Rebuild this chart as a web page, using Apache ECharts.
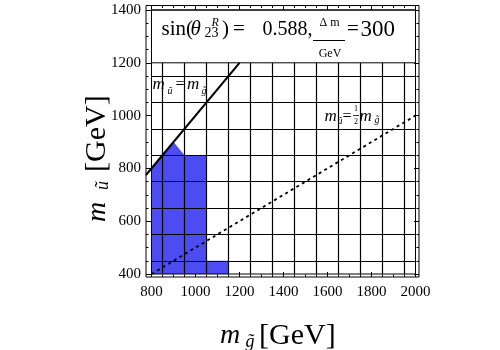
<!DOCTYPE html>
<html>
<head>
<meta charset="utf-8">
<script src="https://cdn.jsdelivr.net/npm/echarts@6/dist/echarts.min.js"></script>
<style>
  html, body { margin: 0; padding: 0; background: #fff; }
  #chart { width: 500px; height: 350px; }
</style>
</head>
<body>
<div id="chart"></div>
<script>
// Excluded region boundary: gluino mass (x) and squark mass (y), GeV
const regionGluino = [800, 800, 900, 950, 1050, 1050, 1150, 1150];
const regionSquark = [400, 800, 900, 850, 850, 450, 450, 400];

// Reference line m_squark = m_gluino
const equalGluino = [775, 1200];
const equalSquark = [775, 1200];

// Reference line m_squark = m_gluino / 2
const halfGluino = [800, 2000];
const halfSquark = [400, 1000];

// Scan cell boundaries
const cellEdgesX = [850, 950, 1050, 1150, 1250, 1350, 1450, 1550, 1650, 1750, 1850, 1950];
const cellEdgesY = [450, 550, 650, 750, 850, 950, 1050, 1150];

// Plot window (GeV) and tick spacing
const xRange = [800, 2000];
const yRange = [400, 1400];
const tickStep = 200;
const legendBoxBottom = 1200;

const SERIF = '"Liberation Serif", "Times New Roman", serif';
const zip = (a, b) => a.map((v, i) => [v, b[i]]);

const chart = echarts.init(document.getElementById('chart'), null, { renderer: 'canvas' });

function txt(text, x, y, size, opt) {
  opt = opt || {};
  const align = opt.align || 'left';
  return {
    type: 'text', x: x, y: y, rotation: opt.rot || 0, silent: true, z: 20,
    style: {
      text: text,
      font: (opt.italic ? 'italic ' : '') + size + 'px ' + SERIF,
      fill: '#000',
      align: align, textAlign: align,
      verticalAlign: 'middle', textVerticalAlign: 'middle'
    }
  };
}

const frameAxis = {
  min: xRange[0], max: xRange[1], interval: tickStep,
  axisLine: { show: false },
  axisTick: { show: true, inside: true, length: 5, lineStyle: { color: '#000', width: 1 } },
  minorTick: { show: true, splitNumber: 4, length: 2.5, lineStyle: { color: '#000', width: 1 } },
  splitLine: { show: false },
  axisLabel: { show: false }
};
const labelStyle = { color: '#000', fontFamily: SERIF, fontSize: 15, formatter: v => String(v) };

const vLines = cellEdgesX.map(x => [{ coord: [x, yRange[0]] }, { coord: [x, legendBoxBottom] }]);
const hLines = cellEdgesY.map(y => [{ coord: [xRange[0], y] }, { coord: [xRange[1], y] }]);

const option = {
  animation: false,
  backgroundColor: '#fff',
  grid: [
    { left: 146, right: 81, top: 5.5, bottom: 73, show: true, borderColor: '#000', borderWidth: 1, backgroundColor: 'transparent', z: 4 },
    { left: 151.5, right: 84.5, top: 10, bottom: 76, show: true, borderColor: '#000', borderWidth: 1, backgroundColor: 'transparent', z: 4 }
  ],
  xAxis: [
    { gridIndex: 0, type: 'value', min: 775, max: 2016, show: false },
    Object.assign({}, frameAxis, { gridIndex: 1, type: 'value', position: 'bottom', offset: 3,
      axisLabel: Object.assign({ show: true, margin: 8 }, labelStyle) }),
    Object.assign({}, frameAxis, { gridIndex: 1, type: 'value', position: 'top', offset: 4.5 })
  ],
  yAxis: [
    { gridIndex: 0, type: 'value', min: 388.64, max: 1417.05, show: false },
    Object.assign({}, frameAxis, { gridIndex: 1, type: 'value', position: 'left', offset: 5.5,
      min: yRange[0], max: yRange[1],
      axisLabel: Object.assign({ show: true, margin: 5 }, labelStyle) }),
    Object.assign({}, frameAxis, { gridIndex: 1, type: 'value', position: 'right', offset: 3.5,
      min: yRange[0], max: yRange[1] })
  ],
  series: [
    {
      type: 'custom', xAxisIndex: 0, yAxisIndex: 0, z: 1, silent: true, clip: true,
      data: [0],
      renderItem: function (params, api) {
        const pts = zip(regionGluino, regionSquark).map(p => api.coord(p));
        return { type: 'polygon', shape: { points: pts }, style: { fill: '#4c4cf2', stroke: null } };
      }
    },
    {
      type: 'line', xAxisIndex: 0, yAxisIndex: 0, z: 3, silent: true, data: [],
      markLine: {
        silent: true, symbol: ['none', 'none'], label: { show: false },
        lineStyle: { color: '#000', width: 1.2, type: 'solid' },
        emphasis: { disabled: true },
        data: vLines.concat(hLines)
      },
      markArea: {
        silent: true,
        itemStyle: { color: '#fff', borderColor: '#000', borderWidth: 1 },
        data: [[{ coord: [xRange[0], legendBoxBottom] }, { coord: [xRange[1], yRange[1]] }]]
      }
    },
    {
      type: 'line', xAxisIndex: 0, yAxisIndex: 0, z: 5, silent: true, symbol: 'none', clip: true,
      lineStyle: { color: '#000', width: 2 },
      data: zip(equalGluino, equalSquark)
    },
    {
      type: 'line', xAxisIndex: 0, yAxisIndex: 0, z: 5, silent: true, symbol: 'none', clip: true,
      lineStyle: { color: '#000', width: 1.8, type: [3, 3.5] },
      data: zip(halfGluino, halfSquark)
    }
  ],
  graphic: [
    // box title
    txt('sin(', 161.5, 29.6, 21),
    txt('\u03b8', 190.5, 29.6, 21, { italic: true }),
    txt('R', 211.5, 22.6, 12, { italic: true }),
    txt('23', 204.5, 33, 14),
    txt(')', 222, 29.6, 21),
    txt('=', 233, 29.6, 21),
    txt('0.588,', 262.5, 29.6, 20),
    txt('\u0394 m', 329.5, 23, 12, { align: 'center' }),
    { type: 'line', silent: true, z: 20, shape: { x1: 313, y1: 40.5, x2: 345, y2: 40.5 }, style: { stroke: '#000', lineWidth: 1 } },
    txt('GeV', 330, 53.6, 12, { align: 'center' }),
    txt('=', 347, 29.6, 21),
    txt('300', 360.5, 29.6, 23),
    // m_u = m_g
    txt('m', 152.5, 85, 17, { italic: true }),
    txt('\u0169', 167.5, 91.6, 10, { italic: true }),
    txt('=', 175.5, 85, 16),
    txt('m', 187, 85, 17, { italic: true }),
    txt('g\u0303', 201.5, 91.6, 10, { italic: true }),
    // m_u = 1/2 m_g
    txt('m', 324.5, 117, 17, { italic: true }),
    txt('\u0169', 337.5, 121, 10, { italic: true }),
    txt('=', 342.5, 117, 16),
    txt('1', 356, 109, 8, { align: 'center' }),
    { type: 'line', silent: true, z: 20, shape: { x1: 353, y1: 115.5, x2: 359, y2: 115.5 }, style: { stroke: '#000', lineWidth: 0.8 } },
    txt('2', 356, 122, 8, { align: 'center' }),
    txt('m', 359.5, 117, 17, { italic: true }),
    txt('g\u0303', 374.5, 120.5, 10, { italic: true }),
    // x axis title
    txt('m', 220, 336, 28, { italic: true }),
    txt('g\u0303', 245.5, 342, 18, { italic: true }),
    txt('[GeV]', 259, 336.5, 30),
    // y axis title (rotated)
    txt('m', 97.5, 222, 28, { italic: true, rot: Math.PI / 2 }),
    txt('\u0169', 103, 190, 18, { italic: true, rot: Math.PI / 2 }),
    txt('[GeV]', 97.5, 172, 30, { rot: Math.PI / 2 })
  ]
};

chart.setOption(option);
</script>
</body>
</html>
